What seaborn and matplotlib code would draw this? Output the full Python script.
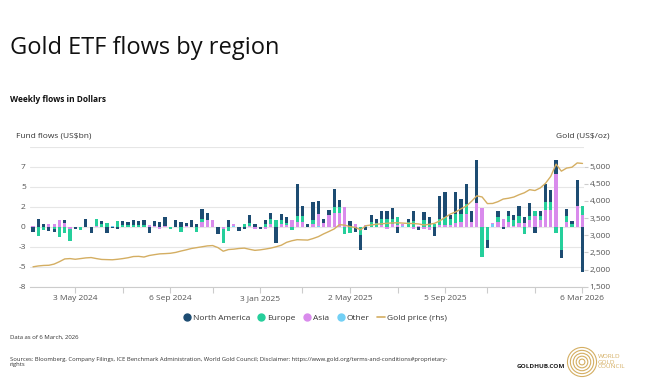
import pandas as pd
import seaborn as sns
import matplotlib.pyplot as plt
import matplotlib.dates as mdates
from matplotlib.lines import Line2D
from matplotlib.patches import Circle

# ===== data (weekly) =====
weeks = pd.date_range("2024-03-08", "2026-03-06", freq="7D")

north_america = [
    -0.6, 1.0, 0.3, -0.5, -0.3, 0, 0.35, 0, -0.3, 0,
    1.0, -0.8, 0, 0.3, -0.8, -0.1, -0.3, 0.5, 0.4, 0.6,
    0.5, 0.6, -0.8, 0.6, 0.6, 1.1, 0, 0.8, 0.6, 0.4,
    0.8, 0.3, 1.2, 0.8, 0, -0.9, 0, 0.9, 0, -0.5,
    -0.3, 1.0, 0.3, -0.3, 0.5, 0.7, -2.0, 0.8, 0.7, 0,
    3.9, 1.2, 0.3, 2.3, 1.6, 0.5, 0.6, 2.2, 0.8, 0,
    0.7, -0.7, -1.9, -0.4, 0.8, 0.5, 1.0, 1.0, 1.4, -0.8,
    0, 0.3, 1.3, -0.4, 1.0, 1.0, -1.1, 2.9, 3.1, 0.5,
    2.7, 1.8, 2.4, 1.4, 5.3, 0, -1.0, 0, 0.8, -0.3,
    0.6, 0.6, 1.3, 0.7, 1.6, -0.8, 0.6, 2.2, 1.5, 1.7,
    -1.0, 0.8, 0.4, 3.2, -5.6,
]
europe = [
    0, -1.2, -0.4, 0, -0.3, -1.3, -0.8, -1.5, 0, -0.35,
    0, 0, 0.9, 0.4, 0.5, 0, 0.7, 0.2, 0.2, 0.2,
    0.2, 0.2, 0, 0, 0, 0, -0.3, 0, -0.6, 0,
    0, -0.6, 0.4, 0, 0, 0, -1.7, -0.5, 0, 0,
    0.3, 0.4, 0, 0, 0.4, 0.6, 0.8, 0.5, 0.3, -0.4,
    0.8, 0.8, 0, 0.5, 0, 0, 0, 0.8, 0.8, -0.9,
    -0.8, 0, -1.0, 0, 0.6, 0.5, 0.8, 1.0, 0.7, 1.0,
    0, 0.6, 0.7, 0, 0.8, 0.2, 0.4, 0.8, 1.0, 0.8,
    1.1, 1.0, 1.25, 0, 0, -3.8, -1.7, 0, 0.6, 0,
    0.8, 0.8, 0.8, -0.9, 0.6, 0.6, 0.6, 1.0, 1.0, -0.8,
    -2.9, 0.8, 0.3, 0, 1.1,
]
asia = [
    0.1, 0, 0, 0.3, 0.35, 0.8, 0.5, -0.3, 0, 0,
    0, 0, 0.1, 0, 0, 0, 0, 0, 0, 0,
    0, 0, 0.2, 0.1, -0.3, 0.1, 0, 0, 0, 0.1,
    0, 0, 0.6, 0.9, 0.8, 0, -0.3, 0, 0.2, 0,
    0, 0.1, -0.3, 0, -0.3, 0.4, 0, 0.3, 0.2, 0.8,
    0.6, 0.6, 0, 0.3, 1.5, 0.5, 1.5, 1.7, 1.7, 2.5,
    0, 0.3, 0, 0.1, 0, 0, 0.2, -0.3, 0.3, 0.2,
    0.2, 0, -0.3, 0.1, -0.3, -0.4, 0, 0.2, 0.2, 0.2,
    0.5, 0.6, 1.65, 0.6, 3.0, 2.4, 0, 0.2, 0.6, 1.0,
    0.6, 0.1, 0.5, 0.5, 0.8, 1.4, 0.8, 2.1, 2.1, 6.6,
    0, 0.6, 0, 2.6, 1.5,
]
other = [0.0] * 105
other[15] = 0.1
other[38] = 0.1
other[54] = 0.1
other[63] = 0.1
other[70] = 0.1
other[87] = 0.3

gold_price = [
    2080, 2105, 2120, 2125, 2160, 2230, 2310, 2320, 2300, 2320,
    2340, 2350, 2320, 2295, 2290, 2285, 2300, 2320, 2345, 2380,
    2385, 2365, 2410, 2435, 2458, 2465, 2475, 2500, 2540, 2575,
    2615, 2640, 2665, 2690, 2700, 2640, 2535, 2584, 2595, 2615,
    2625, 2590, 2560, 2575, 2598, 2625, 2665, 2710, 2794, 2840,
    2872, 2865, 2860, 2905, 2960, 3040, 3110, 3185, 3310, 3295,
    3254, 3226, 3160, 3278, 3300, 3322, 3335, 3350, 3360, 3365,
    3355, 3345, 3342, 3330, 3300, 3320, 3348, 3420, 3520, 3620,
    3680, 3770, 3850, 3990, 4150, 4117, 3924, 3928, 3980, 4057,
    4080, 4115, 4183, 4240, 4330, 4305, 4380, 4515, 4720, 5075,
    4870, 4960, 4985, 5110, 5095,
]

x_label_dates = ["2024-05-03", "2024-09-06", "2025-01-03", "2025-05-02", "2025-09-05", "2026-03-06"]
x_labels = ["3 May 2024", "6 Sep 2024", "3 Jan 2025", "2 May 2025", "5 Sep 2025", "6 Mar 2026"]
x_minor_dates = ["2024-07-05", "2024-11-01", "2025-02-28", "2025-07-04", "2025-10-31", "2026-01-02"]
left_ticks = [-7.5, -5, -2.5, 0, 2.5, 5, 7.5]
left_labels = ["-8", "-5", "-3", "0", "2", "5", "7"]
right_ticks = [1500, 2000, 2500, 3000, 3500, 4000, 4500, 5000]

# ===== styles =====
c_na = "#1d4c72"
c_eu = "#25cf9b"
c_as = "#d98bec"
c_ot = "#72d0f5"
c_gold = "#d4ae62"
txt = "#333333"
tick_col = "#555555"
grid_col = "#e6e6e6"

sns.set_theme(style="white")
plt.rcParams["font.family"] = ["Open Sans", "DejaVu Sans"]

fig = plt.figure(figsize=(6.51, 3.85), dpi=100)
ax = fig.add_axes([30 / 651, 1 - 286.7 / 385, 554 / 651, 140 / 385])

df = pd.DataFrame({"week": weeks, "North America": north_america, "Europe": europe,
                   "Asia": asia, "Other": other, "gold": gold_price})

# stacked bars: Other nearest zero, then Asia, Europe, North America outermost
pos_bottom = [0.0] * len(df)
neg_bottom = [0.0] * len(df)
for name, col in [("Other", c_ot), ("Asia", c_as), ("Europe", c_eu), ("North America", c_na)]:
    vals = df[name].tolist()
    bottoms = [pos_bottom[i] if v >= 0 else neg_bottom[i] for i, v in enumerate(vals)]
    ax.bar(df["week"], vals, bottom=bottoms, width=4.3, color=col, linewidth=0, zorder=3)
    for i, v in enumerate(vals):
        if v >= 0:
            pos_bottom[i] += v
        else:
            neg_bottom[i] += v

ax.set_ylim(-7.5, 10)
ax.set_yticks(left_ticks)
ax.set_yticklabels(left_labels)
ax.grid(axis="y", color=grid_col, linewidth=0.8, zorder=0)
ax.axhline(10, color=grid_col, linewidth=0.8, zorder=0)
ax.set_xlim(pd.Timestamp("2024-03-04"), pd.Timestamp("2026-03-08"))
ax.set_xticks(pd.to_datetime(x_label_dates))
ax.set_xticklabels(x_labels)
ax.set_xticks(pd.to_datetime(x_minor_dates), minor=True)
ax.tick_params(axis="x", which="both", length=4, color="#cccccc", width=0.8,
               labelsize=6, labelcolor=tick_col, pad=2, bottom=True)
ax.tick_params(axis="y", length=0, labelsize=6, labelcolor=tick_col, pad=3)
for s in ["top", "right", "left"]:
    ax.spines[s].set_visible(False)
ax.spines["bottom"].set_color("#cccccc")
ax.spines["bottom"].set_linewidth(0.8)

# gold price on the right axis
ax2 = ax.twinx()
sns.lineplot(data=df, x="week", y="gold", ax=ax2, color=c_gold, linewidth=1.0, zorder=4)
ax2.set_ylim(1500, 1500 + 17.5 * 3500 / 15)
ax2.set_yticks(right_ticks)
ax2.set_yticklabels([f"{v:,}" for v in right_ticks])
ax2.set_ylabel("")
ax2.set_xlabel("")
ax2.tick_params(axis="y", length=3, color="#cccccc", width=0.8, labelsize=6,
                labelcolor=tick_col, pad=1)
for s in ["top", "right", "left", "bottom"]:
    ax2.spines[s].set_visible(False)
ax.set_xlabel("")

# texts
fig.text(10 / 651, 1 - 48 / 385, "Gold ETF flows by region", fontsize=17, color="#111111", va="center")
fig.text(10 / 651, 1 - 100 / 385, "Weekly flows in Dollars", fontsize=6, weight="bold", color="#111111", va="center")
fig.text(16 / 651, 1 - 136 / 385, "Fund flows (US$bn)", fontsize=6, color=txt, va="center")
fig.text(610 / 651, 1 - 136 / 385, "Gold (US$/oz)", fontsize=6, color=txt, va="center", ha="right")

handles = [
    Line2D([], [], marker="o", linestyle="", color=c_na, markersize=5),
    Line2D([], [], marker="o", linestyle="", color=c_eu, markersize=5),
    Line2D([], [], marker="o", linestyle="", color=c_as, markersize=5),
    Line2D([], [], marker="o", linestyle="", color=c_ot, markersize=5),
    Line2D([], [], color=c_gold, linewidth=1.2),
]
fig.legend(handles, ["North America", "Europe", "Asia", "Other", "Gold price (rhs)"],
           loc="center", bbox_to_anchor=(315 / 651, 1 - 318 / 385), ncol=5, frameon=False,
           fontsize=6, handlelength=0.9, handletextpad=0.3, columnspacing=0.9,
           labelcolor=txt)

fig.text(10 / 651, 1 - 337 / 385, "Data as of 6 March, 2026", fontsize=4.3, color=txt, va="center")
fig.text(10 / 651, 1 - 362 / 385,
         "Sources: Bloomberg, Company Filings, ICE Benchmark Administration, World Gold Council; "
         "Disclaimer: https://www.gold.org/terms-and-conditions#proprietary-\nrights",
         fontsize=4.2, color=txt, va="center", linespacing=1.2)
fig.text(517 / 651, 1 - 366 / 385, "GOLDHUB.COM", fontsize=4.6, weight="bold", color="#222222", va="center")

# World Gold Council mark
lax = fig.add_axes([566 / 651, 1 - 378 / 385, 32 / 651, 32 / 385])
lax.set_aspect("equal")
for r in [1.0, 0.8, 0.6, 0.4, 0.2]:
    lax.add_patch(Circle((0, 0), r, fill=False, edgecolor=c_gold, linewidth=0.8))
lax.set_xlim(-1.1, 1.1)
lax.set_ylim(-1.1, 1.1)
lax.axis("off")
fig.text(598 / 651, 1 - 362 / 385, "WORLD\nGOLD\nCOUNCIL", fontsize=4.6, color=c_gold,
         va="center", linespacing=1.0)

fig.savefig("out.png", dpi=100)
